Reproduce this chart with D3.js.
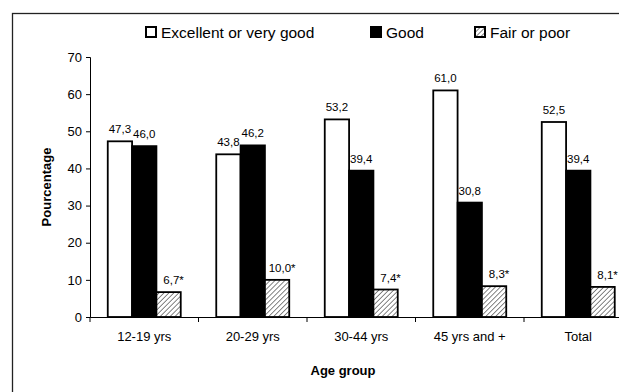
<!DOCTYPE html>
<html><head><meta charset="utf-8">
<script src="https://cdn.jsdelivr.net/npm/d3@7"></script>
<style>body{margin:0;background:#fff}svg{display:block;font-family:"Liberation Sans",Arial,sans-serif}</style>
</head><body>
<svg id="c" width="619" height="392"></svg>
<script>
const categories = ["12-19 yrs", "20-29 yrs", "30-44 yrs", "45 yrs and +", "Total"];
const seriesNames = ["Excellent or very good", "Good", "Fair or poor"];
const excellent = [47.3, 43.8, 53.2, 61.0, 52.5];
const good = [46.0, 46.2, 39.4, 30.8, 39.4];
const fair = [6.7, 10.0, 7.4, 8.3, 8.1];
const flagged = [false, false, true]; // series flagged with "*"
const yTicks = [0, 10, 20, 30, 40, 50, 60, 70];

const svg = d3.select("#c");
const fr = d3.formatLocale({decimal: ",", thousands: ".", grouping: [3], currency: ["", ""]}).format(".1f");
const FONT = "Liberation Sans, Arial, sans-serif";

const defs = svg.append("defs");
const pat = defs.append("pattern").attr("id", "hatch").attr("patternUnits", "userSpaceOnUse")
  .attr("width", 3.5).attr("height", 3.5).attr("patternTransform", "rotate(45)");
pat.append("rect").attr("width", 3.5).attr("height", 3.5).attr("fill", "#fff");
pat.append("line").attr("x1", 0).attr("y1", 0).attr("x2", 0).attr("y2", 3.5)
  .attr("stroke", "#666").attr("stroke-width", 1.6);

// outer frame
svg.append("rect").attr("x", 12.5).attr("y", 13.5).attr("width", 700).attr("height", 500)
  .attr("fill", "none").attr("stroke", "#222").attr("stroke-width", 1.3);

const x0 = 90, x1 = 632.5, yTop = 57, yBot = 317;
const x = d3.scaleBand().domain(categories).range([x0, x1]).paddingInner(0).paddingOuter(0);
const xi = d3.scaleBand().domain(seriesNames).range([0, x.bandwidth()]).paddingOuter(0.73).paddingInner(0);
const y = d3.scaleLinear().domain([0, 70]).range([yBot, yTop]);

const fills = ["#fff", "#000", "url(#hatch)"];
const data = categories.map((c, i) => [excellent[i], good[i], fair[i]]);

// y axis
const ya = svg.append("g").attr("transform", `translate(${x0},0)`)
  .call(d3.axisLeft(y).tickValues(yTicks).tickSize(4).tickPadding(4).tickFormat(d3.format("d")));
ya.select(".domain").attr("stroke", "#000");
ya.selectAll("text").attr("font-size", 13).attr("fill", "#000").attr("font-family", FONT);

// bars
const gr = svg.append("g").selectAll("g").data(categories).join("g")
  .attr("transform", d => `translate(${x(d)},0)`);
gr.each(function(c, i) {
  const g = d3.select(this);
  seriesNames.forEach((s, j) => {
    const v = data[i][j];
    g.append("rect").attr("x", xi(s)).attr("width", xi.bandwidth())
      .attr("y", y(v)).attr("height", y(0) - y(v))
      .attr("fill", fills[j]).attr("stroke", "#000").attr("stroke-width", 1.8);
    g.append("text").attr("x", xi(s) + xi.bandwidth() / 2 + (flagged[j] ? 5 : 0)).attr("y", y(v) - 8)
      .attr("text-anchor", "middle").attr("font-size", 11.5).attr("fill", "#000")
      .text(fr(v) + (flagged[j] ? "*" : ""));
  });
});

// x axis
const xa = svg.append("g").attr("transform", `translate(0,${yBot})`)
  .call(d3.axisBottom(x).tickSize(0).tickPadding(15));
xa.select(".domain").attr("stroke", "#000");
xa.selectAll("text").attr("font-size", 13).attr("fill", "#000").attr("font-family", FONT);
svg.append("g").selectAll("line").data(categories).join("line")
  .attr("x1", d => x(d)).attr("x2", d => x(d)).attr("y1", yBot).attr("y2", yBot + 5)
  .attr("stroke", "#000");

// axis titles
svg.append("text").attr("transform", `translate(51,${(yTop + yBot) / 2}) rotate(-90)`)
  .attr("text-anchor", "middle").attr("font-size", 13).attr("font-weight", "bold").text("Pourcentage");
svg.append("text").attr("x", 343).attr("y", 375).attr("text-anchor", "middle")
  .attr("font-size", 13).attr("font-weight", "bold").text("Age group");

// legend
const legX = [146, 371, 475];
const lg = svg.append("g").selectAll("g").data(seriesNames).join("g")
  .attr("transform", (d, i) => `translate(${legX[i]},27)`);
lg.append("rect").attr("width", 10).attr("height", 10).attr("fill", (d, i) => fills[i])
  .attr("stroke", "#000").attr("stroke-width", 2);
lg.append("text").attr("x", 15).attr("y", 10.5).attr("font-size", 15.5).attr("fill", "#000").text(d => d);
</script>
</body></html>
